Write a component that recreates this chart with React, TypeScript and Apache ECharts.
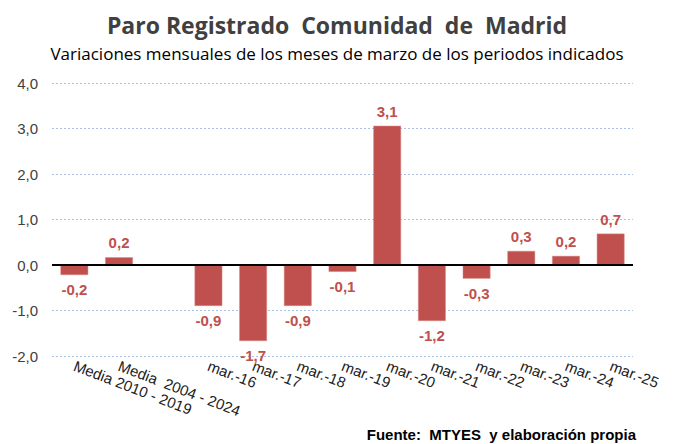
import React, { useEffect, useRef } from "react";
import * as echarts from "echarts";

const categories = [
  "Media 2010 - 2019",
  "Media  2004 - 2024",
  "",
  "mar.-16",
  "mar.-17",
  "mar.-18",
  "mar.-19",
  "mar.-20",
  "mar.-21",
  "mar.-22",
  "mar.-23",
  "mar.-24",
  "mar.-25",
];
const values: (number | null)[] = [-0.2, 0.2, null, -0.9, -1.7, -0.9, -0.1, 3.1, -1.2, -0.3, 0.3, 0.2, 0.7];
const barHeights: (number | null)[] = [-0.22, 0.17, null, -0.9, -1.67, -0.9, -0.15, 3.06, -1.23, -0.3, 0.31, 0.2, 0.69];

const titleText = "Paro Registrado  Comunidad  de  Madrid";
const subtitleText = "Variaciones mensuales de los meses de marzo de los periodos indicados";
const sourceText = "Fuente:  MTYES  y elaboración propia";

const RED = "#C0504D";

export default function App() {
  const ref = useRef<HTMLDivElement>(null);
  useEffect(() => {
    if (!ref.current) return;
    const chart = echarts.init(ref.current, null, { renderer: "svg" });
    const fmt = (v: number) => v.toFixed(1).replace(".", ",");
    chart.setOption({
      animation: false,
      backgroundColor: "#ffffff",
      title: [
        {
          text: titleText,
          left: "center",
          top: 8,
          textStyle: { fontFamily: "Open Sans", fontWeight: "bold", fontSize: 23, color: "#404040" },
        },
        {
          text: subtitleText,
          left: "center",
          top: 40,
          textStyle: { fontFamily: "Open Sans", fontWeight: "normal", fontSize: 17, color: "#000000" },
        },
      ],
      graphic: [
        {
          type: "text",
          right: 38,
          top: 427,
          style: {
            text: sourceText,
            font: "bold 15px 'Liberation Sans', Arial, sans-serif",
            fill: "#000000",
          },
        },
      ],
      grid: { left: 52, right: 41, top: 83, bottom: 88 },
      xAxis: {
        type: "category",
        data: categories,
        axisLine: { show: false, onZero: false },
        axisTick: { show: false },
        axisLabel: {
          rotate: -21,
          interval: 0,
          margin: 9,
          fontFamily: "Liberation Sans, Arial, sans-serif",
          fontSize: 15,
          color: "#222222",
        },
      },
      yAxis: {
        type: "value",
        min: -2,
        max: 4,
        interval: 1,
        axisLine: { show: false },
        axisTick: { show: false },
        axisLabel: {
          formatter: (v: number) => fmt(v),
          margin: 14,
          fontFamily: "Liberation Sans, Arial, sans-serif",
          fontSize: 15,
          color: "#404040",
        },
        splitLine: { lineStyle: { color: "#A9C2E4", type: [2, 2], width: 1 } },
      },
      series: [
        {
          type: "bar",
          barWidth: "62%",
          data: barHeights.map((h, i) =>
            h === null
              ? null
              : {
                  value: h,
                  label: {
                    show: true,
                    position: h >= 0 ? "top" : "bottom",
                    distance: 7,
                    formatter: () => fmt(values[i] as number),
                    color: RED,
                    fontWeight: "bold",
                    fontSize: 15,
                    fontFamily: "Liberation Sans, Arial, sans-serif",
                  },
                }
          ),
          itemStyle: { color: RED, borderColor: "#D98A88", borderWidth: 0.5 },
          markLine: {
            silent: true,
            symbol: "none",
            label: { show: false },
            lineStyle: { color: "#000000", type: "solid", width: 2 },
            data: [{ yAxis: 0 }],
          },
        },
      ],
    });
    return () => chart.dispose();
  }, []);
  return <div ref={ref} style={{ position: "fixed", left: 0, top: 0, width: 674, height: 444 }} />;
}
